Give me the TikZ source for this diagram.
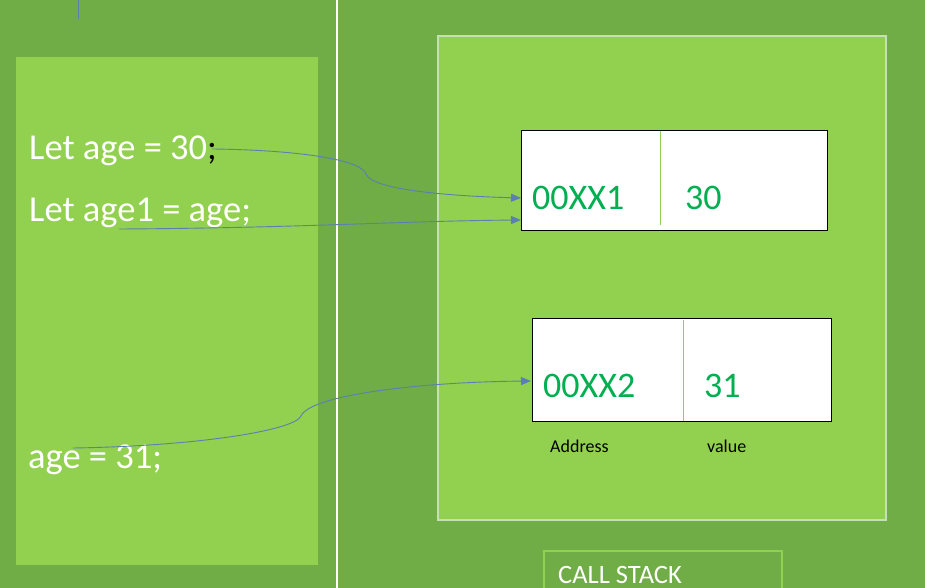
\documentclass[tikz,border=0pt]{standalone}
\usepackage{fontspec}
\setmainfont{Carlito}
\usepackage{tikz}
\usetikzlibrary{arrows.meta}

\definecolor{darkgreen}{HTML}{70AD47}
\definecolor{lightgreen}{HTML}{92D050}
\definecolor{paleborder}{HTML}{C5E0B4}
\definecolor{textgreen}{HTML}{00B050}
\definecolor{linkblue}{HTML}{5A7FB0}

\begin{document}
\begin{tikzpicture}[
    x=1pt, y=-1pt,
    codeText/.style={anchor=base west, inner sep=0pt, text=white, font=\fontsize{36.5}{40}\selectfont},
    cellText/.style={anchor=base west, inner sep=0pt, text=textgreen, font=\fontsize{36}{40}\selectfont},
    smallText/.style={anchor=base west, inner sep=0pt, text=black, font=\fontsize{18}{21}\selectfont},
    memBox/.style={draw=black, line width=1pt, fill=white},
    link/.style={draw=linkblue, line width=0.9pt, -{Triangle[length=10pt, width=8pt]}},
    every node/.style={
        text centered,
        }
        ]
    % background and panels
    \fill[darkgreen] (0, 0) rectangle (925, 588);
    \useasboundingbox (0, 0) rectangle (925, 588);
    \fill[lightgreen] (16, 57) rectangle (318, 565);
    \draw[white, line width=1.2pt] (337, 0) -- (337, 588);
    \draw[linkblue, line width=1pt] (78, 0) -- (78, 19);
    \draw[paleborder, line width=2.5pt, fill=lightgreen] (438, 36) rectangle (886, 520);
    \draw[lightgreen, line width=2pt] (544, 551) rectangle (782, 600);

    % memory cells
    \draw[memBox] (521.5, 130.5) rectangle (827.5, 230);
    \draw[lightgreen, line width=1pt] (660, 131) -- (660, 225);
    \draw[memBox] (532, 318.5) rectangle (831.5, 421);
    \draw[lightgreen, line width=1pt] (683, 320) -- (683, 421);
    \coordinate (cell1) at (521, 198);
    \coordinate (cell1b) at (521, 220);
    \coordinate (cell2) at (531, 381);

    \node[cellText] (addr1) at (532, 209) {00XX1};
    \node[cellText] (val1) at (685, 209) {30};
    \node[cellText] (addr2) at (543, 397) {00XX2};
    \node[cellText] (val2) at (704, 397) {31};
    \node[smallText] (addrLabel) at (550, 452) {Address};
    \node[smallText] (valLabel) at (707, 452) {value};
    \node[anchor=base west, inner sep=0pt, text=white, font=\fontsize{26.5}{30}\selectfont] (stack) at (558, 583) {CALL STACK};

    % code lines
    \node[codeText] (line1) at (29, 160) {Let age = 30\textcolor{black}{;}};
    \node[codeText] (line2) at (29, 221) {Let age1 = age;};
    \node[codeText] (line3) at (28, 468) {age = 31;};
    \coordinate (from1) at (212, 149);
    \coordinate (from2) at (119, 229);
    \coordinate (from3) at (73, 448);

    \draw[link] (from1) .. controls (300, 150) and (362, 160) .. (366, 174) .. controls (372, 190) and (450, 196) .. (cell1);
    \draw[link] (from2) .. controls (300, 228) and (400, 221) .. (cell1b);
    \draw[link] (from3) .. controls (200, 446) and (295, 430) .. (301, 416) .. controls (310, 395) and (420, 382) .. (cell2);
\end{tikzpicture}
\end{document}
